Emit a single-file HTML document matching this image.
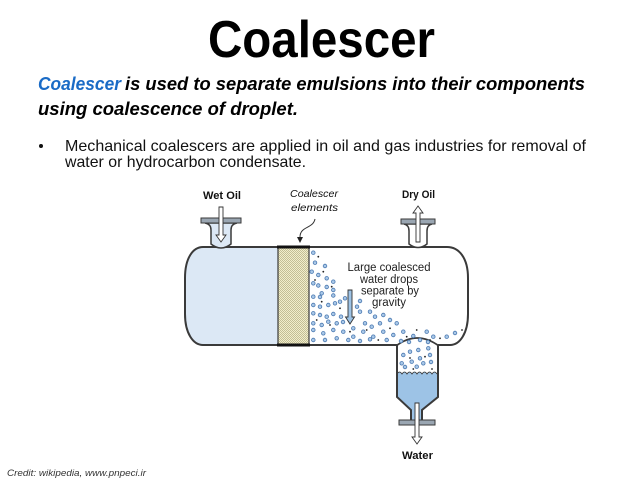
<!DOCTYPE html>
<html><head><meta charset="utf-8"><style>
html,body{margin:0;padding:0;background:#fff;}
svg{display:block;}
text{font-family:"Liberation Sans",sans-serif;}
</style></head><body>
<svg width="640" height="480" viewBox="0 0 640 480" xmlns="http://www.w3.org/2000/svg">
<defs>
<pattern id="mesh" width="2" height="2" patternUnits="userSpaceOnUse">
<rect width="2" height="2" fill="#f2eecb"/>
<rect width="1" height="1" fill="#c2be95"/>
<rect x="1" y="1" width="1" height="1" fill="#c2be95"/>
</pattern>
</defs>
<rect width="640" height="480" fill="#fff"/>

<!-- Title -->
<text x="208" y="57" font-size="52" font-weight="bold" fill="#000" textLength="227" lengthAdjust="spacingAndGlyphs">Coalescer</text>

<!-- Subtitle -->
<text x="38" y="90" font-size="18.5" font-weight="bold" font-style="italic" fill="#1a6bc6" textLength="83" lengthAdjust="spacingAndGlyphs">Coalescer</text>
<text x="125" y="90" font-size="18.5" font-weight="bold" font-style="italic" fill="#000" textLength="460" lengthAdjust="spacingAndGlyphs">is used to separate emulsions into their components</text>
<text x="38" y="115" font-size="18.5" font-weight="bold" font-style="italic" fill="#000" textLength="260" lengthAdjust="spacingAndGlyphs">using coalescence of droplet.</text>

<!-- Bullet -->
<circle cx="41" cy="146" r="2" fill="#111"/>
<text x="65" y="151" font-size="16" fill="#111" textLength="521" lengthAdjust="spacingAndGlyphs">Mechanical coalescers are applied in oil and gas industries for removal of</text>
<text x="65" y="167" font-size="16" fill="#111" textLength="241" lengthAdjust="spacingAndGlyphs">water or hydrocarbon condensate.</text>

<!-- Diagram labels -->
<text x="203" y="199" font-size="11" font-weight="bold" fill="#111" textLength="38" lengthAdjust="spacingAndGlyphs">Wet Oil</text>
<text x="402" y="198" font-size="11" font-weight="bold" fill="#111" textLength="33" lengthAdjust="spacingAndGlyphs">Dry Oil</text>
<text x="290" y="197" font-size="10.5" font-style="italic" fill="#111" textLength="48" lengthAdjust="spacingAndGlyphs">Coalescer</text>
<text x="291" y="211" font-size="10.5" font-style="italic" fill="#111" textLength="47" lengthAdjust="spacingAndGlyphs">elements</text>
<text x="402" y="459" font-size="11" font-weight="bold" fill="#111" textLength="31" lengthAdjust="spacingAndGlyphs">Water</text>

<!-- Leader -->
<path d="M315,219 C313,229 300,226 300,237" fill="none" stroke="#333" stroke-width="1"/>
<polygon points="297,237 303,237 300,243" fill="#222"/>

<!-- Shell fill -->
<path d="M203,247 L447,247 C459,247 468,258 468,278 L468,314 C468,333 460,345 450,345 L203,345 C193,345 185,333 185,314 L185,278 C185,258 193,247 203,247 Z" fill="#fff"/>
<path d="M203,247 L278,247 L278,345 L203,345 C193,345 185,333 185,314 L185,278 C185,258 193,247 203,247 Z" fill="#dce8f5"/>
<!-- Coalescer element -->
<rect x="278" y="247" width="31" height="98" fill="url(#mesh)" stroke="#3a3a3a" stroke-width="1.2"/>

<!-- Shell outline -->
<path d="M203,247 L447,247 C459,247 468,258 468,278 L468,314 C468,333 460,345 450,345 L203,345 C193,345 185,333 185,314 L185,278 C185,258 193,247 203,247 Z" fill="none" stroke="#3a3a3a" stroke-width="2"/>
<line x1="277" y1="247" x2="310" y2="247" stroke="#111" stroke-width="3"/>
<line x1="277" y1="345" x2="310" y2="345" stroke="#111" stroke-width="3"/>

<!-- Boot -->
<path d="M397,338 L438,338 L438,397 L422,410 L422,421 L411,421 L411,410 L397,397 Z" fill="#fff"/>
<path d="M397,374 q2.5,-4 5,0 q2.5,-4 5,0 q2.5,-4 5,0 q2.5,-4 5,0 q2.5,-4 5,0 q2.5,-4 5,0 q2.5,-4 5,0 q2.5,-4 5,0 q0.5,-1 1,-1 L438,397 L422,410 L422,421 L411,421 L411,410 L397,397 Z" fill="#9dc3e6"/>
<path d="M397,374 q2.5,-4 5,0 q2.5,-4 5,0 q2.5,-4 5,0 q2.5,-4 5,0 q2.5,-4 5,0 q2.5,-4 5,0 q2.5,-4 5,0 q2.5,-4 5,0" fill="none" stroke="#3a3a3a" stroke-width="0.8"/>
<path d="M397,345 L397,397 L411,410 L411,421" fill="none" stroke="#3a3a3a" stroke-width="2"/>
<path d="M438,345 L438,397 L422,410 L422,421" fill="none" stroke="#3a3a3a" stroke-width="2"/>
<path d="M396,346 Q417,330 439,346" fill="none" stroke="#3a3a3a" stroke-width="1.8"/>
<rect x="399" y="420" width="36" height="5" fill="#9aa6b2" stroke="#3a3a3a" stroke-width="1"/>
<polygon points="415,403 419,403 419,437 422,437 417,444 412,437 415,437" fill="#fff" stroke="#333" stroke-width="0.9"/>

<!-- Inlet nozzle -->
<path d="M205,223 Q211,224 211,230 L211,244 Q221,252 231,244 L231,230 Q231,224 237,223 Z" fill="#dce8f5" stroke="#3a3a3a" stroke-width="1.5"/>
<rect x="201" y="218" width="40" height="5" fill="#9aa6b2" stroke="#3a3a3a" stroke-width="1"/>
<polygon points="219,207 223,207 223,235 226,235 221,242 216,235 219,235" fill="#fff" stroke="#333" stroke-width="0.9"/>

<!-- Outlet nozzle -->
<path d="M404,224 Q409,225 409,231 L409,244 Q418,251 427,244 L427,231 Q427,225 432,224 Z" fill="#fff" stroke="#3a3a3a" stroke-width="1.5"/>
<rect x="401" y="219" width="34" height="5" fill="#9aa6b2" stroke="#3a3a3a" stroke-width="1"/>
<polygon points="418,206 423,213 420,213 420,242 416,242 416,213 413,213" fill="#fff" stroke="#333" stroke-width="0.9"/>

<!-- Text inside vessel -->
<g font-size="11.5" fill="#222" text-anchor="middle">
<text x="389" y="271" textLength="83" lengthAdjust="spacingAndGlyphs">Large coalesced</text>
<text x="389" y="283" textLength="58" lengthAdjust="spacingAndGlyphs">water drops</text>
<text x="390" y="294.5" textLength="58" lengthAdjust="spacingAndGlyphs">separate by</text>
<text x="389" y="306" textLength="34" lengthAdjust="spacingAndGlyphs">gravity</text>
</g>
<polygon points="348,290 352,290 352,317 354.5,317 350,324 345.5,317 348,317" fill="#9dc3e6" stroke="#333" stroke-width="0.9"/>

<!-- Droplets -->
<g fill="#a9c8e8" stroke="#4a78b0" stroke-width="0.8">
<circle cx="313.3" cy="252.7" r="1.8"/><circle cx="315" cy="262.7" r="1.8"/><circle cx="325" cy="266" r="1.8"/>
<circle cx="311.7" cy="271.7" r="1.8"/><circle cx="318.3" cy="275" r="1.8"/><circle cx="326.7" cy="278.3" r="1.8"/>
<circle cx="333.3" cy="281.7" r="1.8"/><circle cx="313.3" cy="283.3" r="1.8"/><circle cx="318.3" cy="285.5" r="1.8"/>
<circle cx="326.7" cy="287" r="1.8"/><circle cx="321.7" cy="293.3" r="1.8"/><circle cx="333.3" cy="290" r="1.8"/>
<circle cx="313.3" cy="296.7" r="1.8"/><circle cx="320" cy="297" r="1.8"/><circle cx="333.3" cy="295.5" r="1.8"/>
<circle cx="340" cy="301.7" r="1.8"/><circle cx="345" cy="298.3" r="1.8"/><circle cx="357" cy="306.7" r="1.8"/>
<circle cx="360" cy="301" r="1.8"/><circle cx="313.3" cy="305" r="1.8"/><circle cx="320" cy="306.7" r="1.8"/>
<circle cx="328.3" cy="305" r="1.8"/><circle cx="335" cy="303.3" r="1.8"/><circle cx="313.3" cy="313.3" r="1.8"/>
<circle cx="320" cy="315" r="1.8"/><circle cx="326.7" cy="316.7" r="1.8"/><circle cx="333.3" cy="314" r="1.8"/>
<circle cx="341" cy="316.7" r="1.8"/><circle cx="360" cy="311.7" r="1.8"/><circle cx="370" cy="311.7" r="1.8"/>
<circle cx="375" cy="316.7" r="1.8"/><circle cx="383.3" cy="315" r="1.8"/><circle cx="313.3" cy="323.3" r="1.8"/>
<circle cx="321.7" cy="325" r="1.8"/><circle cx="328.3" cy="321.7" r="1.8"/><circle cx="336.7" cy="323.3" r="1.8"/>
<circle cx="343" cy="322" r="1.8"/><circle cx="353.3" cy="328.3" r="1.8"/><circle cx="365" cy="323.3" r="1.8"/>
<circle cx="371.7" cy="326.7" r="1.8"/><circle cx="380" cy="323.3" r="1.8"/><circle cx="390" cy="320" r="1.8"/>
<circle cx="396.7" cy="323.3" r="1.8"/><circle cx="313.3" cy="330" r="1.8"/><circle cx="323.3" cy="333.3" r="1.8"/>
<circle cx="333.3" cy="330" r="1.8"/><circle cx="343.3" cy="331.7" r="1.8"/><circle cx="353.3" cy="336.7" r="1.8"/>
<circle cx="363.3" cy="331.7" r="1.8"/><circle cx="373.3" cy="336.7" r="1.8"/><circle cx="383.3" cy="331.7" r="1.8"/>
<circle cx="393.3" cy="335" r="1.8"/><circle cx="403.3" cy="331.7" r="1.8"/><circle cx="413.3" cy="336" r="1.8"/>
<circle cx="426.7" cy="331.7" r="1.8"/><circle cx="433.3" cy="336.7" r="1.8"/><circle cx="446.7" cy="336.7" r="1.8"/>
<circle cx="455" cy="333" r="1.8"/><circle cx="313.3" cy="340" r="1.8"/><circle cx="325" cy="340" r="1.8"/>
<circle cx="336.7" cy="338.3" r="1.8"/><circle cx="348.3" cy="340" r="1.8"/><circle cx="360" cy="341" r="1.8"/>
<circle cx="370" cy="339.3" r="1.8"/><circle cx="386.7" cy="340" r="1.8"/><circle cx="401" cy="341" r="1.8"/>
<circle cx="420" cy="340" r="1.8"/><circle cx="409" cy="342" r="1.8"/><circle cx="428" cy="342" r="1.8"/>
<circle cx="403.3" cy="355" r="1.8"/><circle cx="410" cy="351.7" r="1.8"/><circle cx="418.3" cy="350" r="1.8"/>
<circle cx="428.3" cy="348.3" r="1.8"/><circle cx="401.7" cy="363.3" r="1.8"/><circle cx="411.7" cy="361.7" r="1.8"/>
<circle cx="420" cy="358.3" r="1.8"/><circle cx="430" cy="355" r="1.8"/><circle cx="405" cy="367" r="1.8"/>
<circle cx="416.7" cy="366.7" r="1.8"/><circle cx="423.3" cy="363.3" r="1.8"/><circle cx="431" cy="362" r="1.8"/>
</g>
<g fill="#222">
<circle cx="318.3" cy="256.7" r="0.9"/><circle cx="323.3" cy="271.7" r="0.9"/><circle cx="315" cy="280" r="0.9"/>
<circle cx="331.7" cy="286.7" r="0.9"/><circle cx="321.7" cy="301.7" r="0.9"/><circle cx="340" cy="308.3" r="0.9"/>
<circle cx="330" cy="325" r="0.9"/><circle cx="366.7" cy="330" r="0.9"/><circle cx="378.3" cy="340" r="0.9"/>
<circle cx="390" cy="328.3" r="0.9"/><circle cx="406.7" cy="336.7" r="0.9"/><circle cx="416.7" cy="330" r="0.9"/>
<circle cx="430" cy="340" r="0.9"/><circle cx="440" cy="338.3" r="0.9"/><circle cx="316.7" cy="320" r="0.9"/>
<circle cx="350" cy="331.7" r="0.9"/><circle cx="410" cy="358" r="0.9"/><circle cx="425" cy="356.7" r="0.9"/>
<circle cx="413.3" cy="369" r="0.9"/><circle cx="432" cy="369" r="0.9"/><circle cx="462" cy="330" r="0.9"/>
</g>

<!-- Credit -->
<text x="7" y="476" font-size="9" font-style="italic" fill="#333" textLength="139" lengthAdjust="spacingAndGlyphs">Credit: wikipedia, www.pnpeci.ir</text>
</svg>
</body></html>
